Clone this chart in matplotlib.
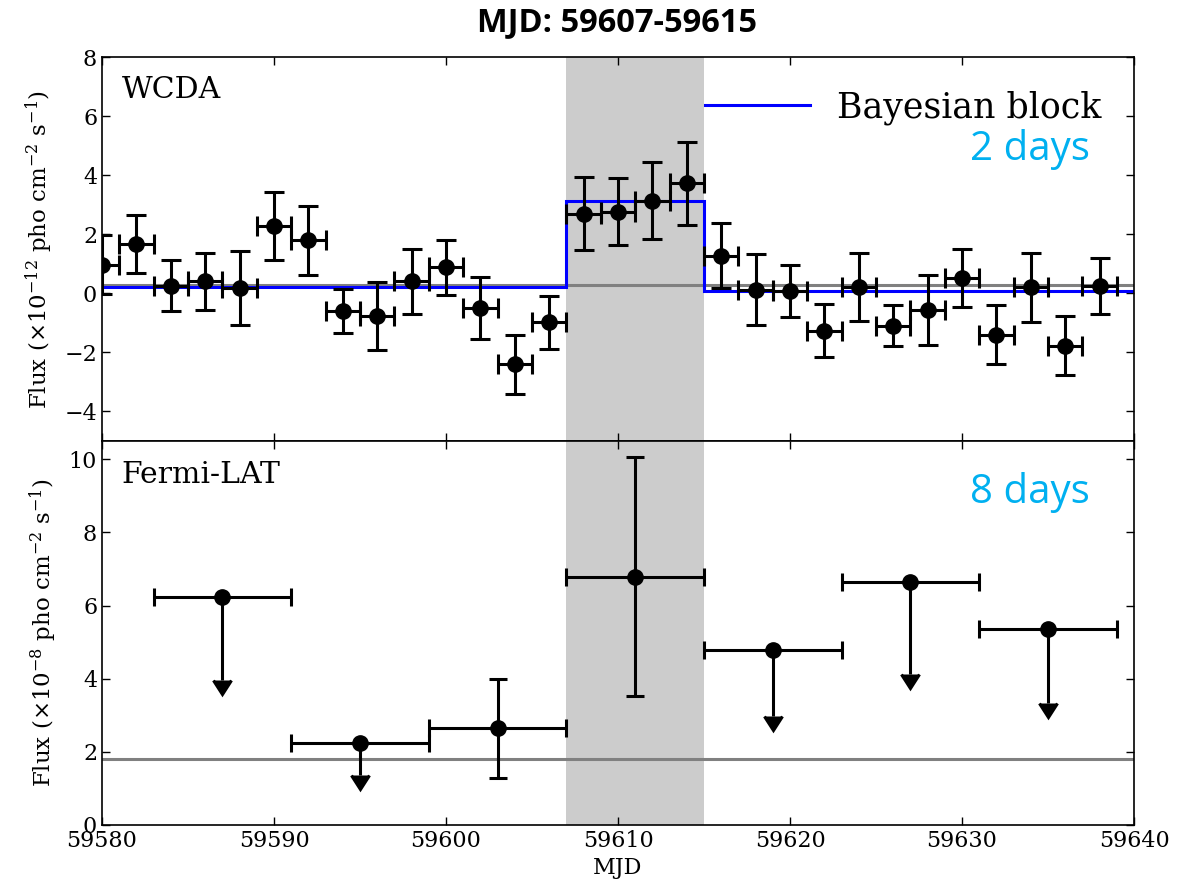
import matplotlib
matplotlib.use("Agg")
from matplotlib import pyplot as plt

# WCDA light curve, 2-day bins
wcda_mjd = [59580, 59582, 59584, 59586, 59588, 59590, 59592, 59594, 59596, 59598,
            59600, 59602, 59604, 59606, 59608, 59610, 59612, 59614, 59616, 59618,
            59620, 59622, 59624, 59626, 59628, 59630, 59632, 59634, 59636, 59638]
wcda_flux = [0.97, 1.67, 0.26, 0.41, 0.18, 2.29, 1.79, -0.61, -0.76, 0.41,
             0.88, -0.51, -2.40, -0.98, 2.69, 2.77, 3.14, 3.73, 1.28, 0.12,
             0.07, -1.27, 0.20, -1.10, -0.56, 0.52, -1.40, 0.20, -1.77, 0.26]
wcda_err = [1.0, 0.98, 0.87, 0.96, 1.26, 1.15, 1.17, 0.75, 1.15, 1.10,
            0.93, 1.05, 1.00, 0.90, 1.24, 1.15, 1.30, 1.40, 1.10, 1.20,
            0.88, 0.90, 1.15, 0.70, 1.18, 0.97, 1.00, 1.17, 1.00, 0.95]
wcda_base = 0.28

block_edges = [59580, 59607, 59615, 59640]
block_flux = [0.23, 3.11, 0.07]

# Fermi-LAT light curve, 8-day bins (upper limits drawn as arrows)
lat_mjd = [59587, 59595, 59603, 59611, 59619, 59627, 59635]
lat_flux = [6.22, 2.25, 2.64, 6.79, 4.79, 6.64, 5.35]
lat_err_lo = [2.25, 0.88, 1.36, 3.25, 1.80, 2.50, 2.02]
lat_err_hi = [0.0, 0.0, 1.36, 3.26, 0.0, 0.0, 0.0]
lat_ul = [True, True, False, False, True, True, True]
lat_base = 1.80

flare = (59607, 59615)

plt.rcParams["font.family"] = "DejaVu Serif"
plt.rcParams["mathtext.fontset"] = "dejavuserif"

fig = plt.figure(figsize=(11.96, 8.89), dpi=100)
ax1 = fig.add_axes([0.0853, 0.504, 0.8629, 0.4318])
ax2 = fig.add_axes([0.0853, 0.072, 0.8629, 0.432], sharex=ax1)

for ax in (ax1, ax2):
    ax.axvspan(*flare, color="#cccccc", lw=0, zorder=0)
    ax.tick_params(direction="in", top=True, right=True, length=6, width=1, labelsize=16)
    for s in ax.spines.values():
        s.set_linewidth(1.2)

# top panel
ax1.axhline(wcda_base, color="#808080", lw=2.2, zorder=1)
ax1.stairs(block_flux, block_edges, baseline=None, color="blue", lw=2.2, zorder=2,
           label="Bayesian block")
ax1.errorbar(wcda_mjd, wcda_flux, yerr=wcda_err, xerr=1, fmt="o", color="black",
             ms=11, elinewidth=2.2, capsize=7.5, capthick=2.2, zorder=3)
ax1.set_xlim(59580, 59640)
ax1.set_ylim(-5, 8)
ax1.set_yticks([-4, -2, 0, 2, 4, 6, 8])
ax1.tick_params(labelbottom=False)
ax1.set_ylabel(r"Flux ($\times10^{-12}$ pho cm$^{-2}$ s$^{-1}$)", fontsize=16.5, labelpad=7)
ax1.text(0.019, 0.914, "WCDA", transform=ax1.transAxes, fontsize=21.5, va="center")
ax1.text(0.957, 0.758, "2 days", transform=ax1.transAxes, fontsize=29, color="#00B0F0",
         family="Open Sans", ha="right", va="center")
ax1.legend(loc="upper right", frameon=False, fontsize=25, handlelength=3.0,
           handletextpad=0.8, bbox_to_anchor=(0.999, 0.995))

# bottom panel
ax2.axhline(lat_base, color="#808080", lw=2.2, zorder=1)
ax2.errorbar(lat_mjd, lat_flux, yerr=[lat_err_lo, lat_err_hi], xerr=4, uplims=lat_ul,
             fmt="o", color="black", ms=11, elinewidth=2.2, capsize=6.5, capthick=2.2,
             zorder=3)
ax2.set_ylim(0, 10.5)
ax2.set_yticks([0, 2, 4, 6, 8, 10])
ax2.set_xticks([59580, 59590, 59600, 59610, 59620, 59630, 59640])
ax2.set_xlabel("MJD", fontsize=16)
ax2.set_ylabel(r"Flux ($\times10^{-8}$ pho cm$^{-2}$ s$^{-1}$)", fontsize=16.5, labelpad=7)
ax2.text(0.019, 0.911, "Fermi-LAT", transform=ax2.transAxes, fontsize=21.5, va="center")
ax2.text(0.957, 0.865, "8 days", transform=ax2.transAxes, fontsize=29, color="#00B0F0",
         family="Open Sans", ha="right", va="center")

fig.text(0.516, 0.975, "MJD: 59607-59615", fontsize=23.5, fontweight="bold",
         family="Open Sans", ha="center", va="center")

fig.savefig("out.png", dpi=100)
